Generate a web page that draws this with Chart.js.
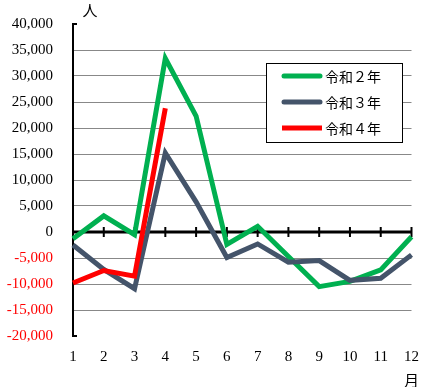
<!DOCTYPE html>
<html>
  <head>
    <title>令和 月別人数</title>
    <script src="https://cdn.jsdelivr.net/npm/chart.js"></script>
    <style>
      body {
        margin: 0;
        background: #fff;
      }

      #wrap {
        width: 423px;
        height: 387px;
      }
    </style>
  </head>
  <body>
    <div id="wrap"><canvas id="monthChart"></canvas></div>

    <script>
      const months = ['1', '2', '3', '4', '5', '6', '7', '8', '9', '10', '11', '12'];
      const seriesNames = ['令和２年', '令和３年', '令和４年'];
      const r2 = [-1300, 3100, -500, 33400, 22300, -2400, 1100, -4700, -10500, -9500, -7300, -900];
      const r3 = [-2500, -7200, -10900, 15200, 5800, -4900, -2300, -5800, -5500, -9300, -8900, -4400];
      const r4 = [-9800, -7400, -8500, 23800];
      const yTicks = { min: -20000, max: 40000, step: 5000 };

      const serif = '"Liberation Serif", "DejaVu Serif", serif';
      const cjk = '"Noto Sans CJK JP", "Noto Sans", sans-serif';

      // zero line with month ticks, unit labels and the boxed legend
      const decor = {
        id: 'decor',
        beforeDatasetsDraw(chart) {
          const { ctx, chartArea, scales } = chart;
          const y0 = scales.y.getPixelForValue(0);
          ctx.save();
          ctx.strokeStyle = '#000';
          ctx.lineWidth = 3;
          ctx.beginPath();
          ctx.moveTo(chartArea.left, y0);
          ctx.lineTo(chartArea.right, y0);
          ctx.stroke();
          ctx.lineWidth = 2;
          months.forEach((m, i) => {
            const x = scales.x.getPixelForValue(i);
            ctx.beginPath();
            ctx.moveTo(x, y0 - 5);
            ctx.lineTo(x, y0 + 5);
            ctx.stroke();
          });
          // short inward ticks at top and bottom of the value axis
          [yTicks.max, yTicks.min].forEach((v) => {
            const y = scales.y.getPixelForValue(v);
            ctx.beginPath();
            ctx.moveTo(chartArea.left, y);
            ctx.lineTo(chartArea.left + 4, y);
            ctx.stroke();
          });
          ctx.restore();
        },
        afterDraw(chart) {
          const { ctx, chartArea } = chart;
          ctx.save();
          ctx.fillStyle = '#000';
          ctx.font = '15px ' + cjk;
          ctx.textAlign = 'center';
          ctx.textBaseline = 'middle';
          ctx.fillText('人', 90, 10);
          ctx.fillText('月', chartArea.right, 380);

          // legend
          const bx = 266, by = 63, bw = 136, bh = 79;
          ctx.fillStyle = '#fff';
          ctx.fillRect(bx, by, bw, bh);
          ctx.strokeStyle = '#000';
          ctx.lineWidth = 1;
          ctx.strokeRect(bx + 0.5, by + 0.5, bw, bh);
          ctx.font = '14px ' + cjk;
          ctx.textAlign = 'left';
          chart.data.datasets.forEach((ds, i) => {
            const y = 76 + i * 26;
            ctx.strokeStyle = ds.borderColor;
            ctx.lineWidth = 5;
            ctx.lineCap = i < 2 ? 'round' : 'butt';
            ctx.beginPath();
            ctx.moveTo(i < 2 ? 284 : 282, y);
            ctx.lineTo(i < 2 ? 320 : 322, y);
            ctx.stroke();
            ctx.fillStyle = '#000';
            ctx.fillText(ds.label, 325, y + 1);
          });
          ctx.restore();
        },
      };

      const ctx = document.getElementById('monthChart').getContext('2d');
      const chart = new Chart(ctx, {
        type: 'line',
        data: {
          labels: months,
          datasets: [
            {
              label: seriesNames[0],
              data: r2,
              borderColor: '#00B050',
              borderWidth: 5,
              order: 3,
            },
            {
              label: seriesNames[1],
              data: r3,
              borderColor: '#44546A',
              borderWidth: 5,
              order: 2,
            },
            {
              label: seriesNames[2],
              data: r4,
              borderColor: '#FF0000',
              borderWidth: 5,
              order: 1,
            },
          ],
        },
        options: {
          responsive: true,
          maintainAspectRatio: false,
          animation: false,
          events: [],
          elements: {
            point: { radius: 0 },
            line: { tension: 0, fill: false },
          },
          layout: {
            padding: { top: 24, right: 11, left: 0, bottom: 0 },
          },
          plugins: {
            legend: { display: false },
            tooltip: { enabled: false },
          },
          scales: {
            x: {
              offset: false,
              grid: { display: false },
              border: { display: false },
              ticks: {
                color: '#000',
                font: { family: serif, size: 15 },
                padding: 4,
                maxRotation: 0,
                autoSkip: false,
              },
              afterFit(scale) {
                scale.height = 51;
              },
            },
            y: {
              min: yTicks.min,
              max: yTicks.max,
              ticks: {
                stepSize: yTicks.step,
                padding: 20,
                color: (c) => (c.tick.value < 0 ? '#FF0000' : '#000'),
                font: { family: serif, size: 15 },
                callback: (v) => v.toLocaleString('en-US'),
              },
              grid: {
                drawTicks: false,
                lineWidth: 1,
                color: (c) =>
                  c.tick.value === yTicks.max || c.tick.value === yTicks.min || c.tick.value === 0
                    ? 'rgba(0,0,0,0)'
                    : '#888',
              },
              border: { display: true, color: '#000', width: 2 },
              afterFit(scale) {
                scale.width = 73;
                scale.paddingTop = 0;
                scale.paddingBottom = 0;
              },
            },
          },
        },
        plugins: [decor],
      });
    </script>
  </body>
</html>
